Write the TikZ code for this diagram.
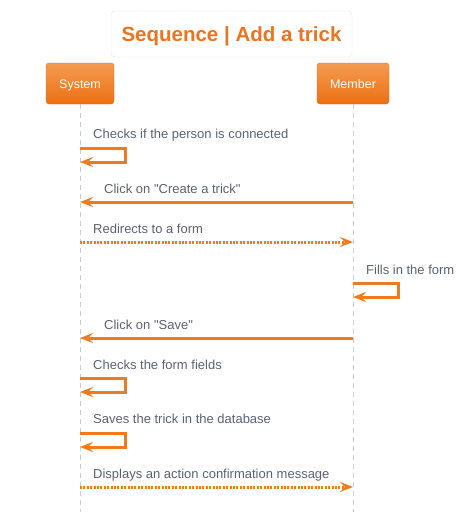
\documentclass[tikz,border=0pt]{standalone}
\usepackage{fontspec}
\setmainfont{Liberation Sans}
\usetikzlibrary{positioning,arrows.meta}
\definecolor{TrickOrange}{HTML}{F07A1E}
\definecolor{TrickTitle}{HTML}{EC7420}
\definecolor{TrickTop}{HTML}{F49A50}
\definecolor{TrickBottom}{HTML}{EC7013}
\definecolor{TrickText}{HTML}{5A6270}
\definecolor{TrickLine}{HTML}{C9CCD0}
\definecolor{TrickBorder}{HTML}{E4E4E4}

\begin{document}
\begin{tikzpicture}[
  x=1pt,y=-1pt,
  every node/.style={font=\fontsize{13}{15}\selectfont},
  title/.style={draw=TrickBorder,rounded corners=4pt,fill=white,minimum width=241pt,minimum height=46pt,
    text height=15pt,text depth=0pt,
    text=TrickTitle,font=\fontsize{20.5}{24}\selectfont\bfseries},
  actor/.style={draw=TrickBottom,rounded corners=3pt,top color=TrickTop,bottom color=TrickBottom,
    text=white,inner sep=0pt,minimum height=41pt,text height=9pt,text depth=0pt,
    font=\fontsize{12.5}{15}\selectfont},
  lifeline/.style={draw=TrickLine,line width=0.9pt,dash pattern=on 5pt off 4pt},
  msg/.style={text=TrickText,anchor=base west,inner sep=0pt},
  call/.style={draw=TrickOrange,line width=3pt,
    -{Stealth[length=13pt,width=10pt,inset=5pt]}},
  reply/.style={call,dash pattern=on 2pt off 1.4pt}
]
  \useasboundingbox (0,0) rectangle (459,512);

  % heading and participants
  \node[title] (head) at (231.5,34) {Sequence | Add a trick};
  \node[actor,minimum width=68pt] (system) at (80,83.5) {System};
  \node[actor,minimum width=72pt] (member) at (353,83.5) {Member};

  \coordinate (systemend) at (80,512);
  \coordinate (memberend) at (353,512);
  \draw[lifeline] (system) -- (systemend);
  \draw[lifeline] (member) -- (memberend);

  % 1: self check
  \node[msg] (checkconn) at (93,138.5) {Checks if the person is connected};
  \draw[call] (system |- 0,148) -- ++(45,0) -- ++(0,14) -- (system |- 0,162);

  % 2: create a trick
  \node[msg] (clickcreate) at (104,193.5) {Click on \textquotedbl Create a trick\textquotedbl};
  \draw[call] (member |- 0,202) -- (system |- 0,202);

  % 3: form
  \node[msg] (redirect) at (93,233.5) {Redirects to a form};
  \draw[reply] (system |- 0,242) -- (member |- 0,242);

  % 4: member fills the form
  \node[msg] (fillform) at (366,274.5) {Fills in the form};
  \draw[call] (member |- 0,283) -- ++(45,0) -- ++(0,14) -- (member |- 0,297);

  % 5: save
  \node[msg] (clicksave) at (104,329.5) {Click on \textquotedbl Save\textquotedbl};
  \draw[call] (member |- 0,338) -- (system |- 0,338);

  % 6: field check
  \node[msg] (checkfields) at (93,369.5) {Checks the form fields};
  \draw[call] (system |- 0,378) -- ++(45,0) -- ++(0,14) -- (system |- 0,392);

  % 7: database
  \node[msg] (savetrick) at (93,423.5) {Saves the trick in the database};
  \draw[call] (system |- 0,433) -- ++(45,0) -- ++(0,14) -- (system |- 0,447);

  % 8: confirmation
  \node[msg] (confirm) at (93,478) {Displays an action confirmation message};
  \draw[reply] (system |- 0,487) -- (member |- 0,487);
\end{tikzpicture}
\end{document}
